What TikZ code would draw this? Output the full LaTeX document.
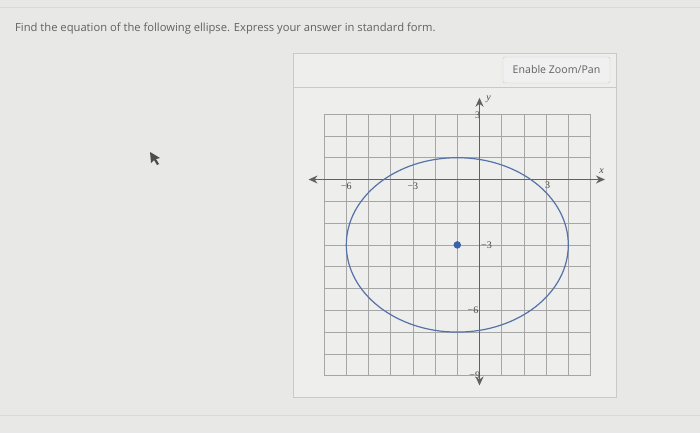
\documentclass[tikz,border=0pt]{standalone}
\usepackage{fontspec}
\setmainfont{Open Sans}
\newfontfamily\tickfont{Liberation Serif}
\usetikzlibrary{arrows.meta}
\definecolor{pagegray}{HTML}{E8E8E6}
\definecolor{panelgray}{HTML}{EEEEEC}
\definecolor{linegray}{HTML}{C9C9C7}
\definecolor{ellblue}{HTML}{5573A8}
\definecolor{dotblue}{HTML}{3A62A6}

\begin{document}
\begin{tikzpicture}[x=1pt,y=-1pt,
		ui/.style={font=\fontsize{10.6}{12}\selectfont, text=black!62, inner sep=0pt},
		tick/.style={font=\tickfont\fontsize{10}{11}\selectfont, text=black!72, inner sep=1pt},
		gridline/.style={black!35, line width=0.6pt},
		axis/.style={black!62, line width=1.1pt, {Stealth[length=9pt,width=8pt]}-{Stealth[length=9pt,width=8pt]}}]
		\useasboundingbox[fill=pagegray] (0,0) rectangle (700,433);
		\draw[linegray!70] (0,7) -- (700,7);
		\draw[linegray!70] (0,415) -- (700,415);
		% question and panel
		\node[ui, anchor=west, font=\fontsize{11.2}{13}\selectfont] (question) at (15,29) {Find the equation of the following ellipse. Express your answer in standard form.};
		\draw[linegray, fill=panelgray] (293,53) rectangle (616,397);
		\draw[linegray] (293,87) -- (616,87);
		\node[ui, draw=linegray, fill=black!6, rounded corners=2pt, minimum width=107pt, minimum height=26pt] (zoombtn) at (556.5,70) {Enable Zoom/Pan};
		% mouse pointer
		\fill[black!70] (150,152) -- (151,163) -- (154,160) -- (157,165) -- (159,164) -- (156,159) -- (160,158) -- cycle;
		% graph
		\coordinate (O) at (479.5,179.5);
		\begin{scope}[shift={(O)}, x=22.2pt, y=21.8pt]
		\draw[gridline, step=1] (-7,-9) grid (5,3);
		\draw[axis] (-7.7,0) -- (5.65,0);
		\draw[axis] (0,3.75) -- (0,-9.45);
		\draw[ellblue, line width=1.2pt] (-1,-3) ellipse [x radius=5, y radius=4];
		\node[circle, fill=dotblue, inner sep=0pt, minimum size=7.5pt] (center) at (-1,-3) {};
		\node[tick, anchor=north] (xm6) at (-6,-0.08) {−6};
		\node[tick, anchor=north] (xm3) at (-3,-0.08) {−3};
		\node[tick, anchor=north west] (x3) at (2.9,-0.05) {3};
		\node[tick, anchor=east] (y3) at (0.08,2.95) {3};
		\node[tick, anchor=west] (ym3) at (0.02,-3) {−3};
		\node[tick, anchor=east] (ym6) at (0,-6) {−6};
		\node[tick, anchor=east] (ym9) at (0.08,-9) {−9};
		\node[tick, anchor=south, font=\tickfont\itshape\fontsize{10}{11}\selectfont] (xlab) at (5.5,0.2) {x};
		\node[tick, anchor=west, font=\tickfont\itshape\fontsize{10}{11}\selectfont] (ylab) at (0.25,3.7) {y};
		\end{scope}
		\end{tikzpicture}
\end{document}
